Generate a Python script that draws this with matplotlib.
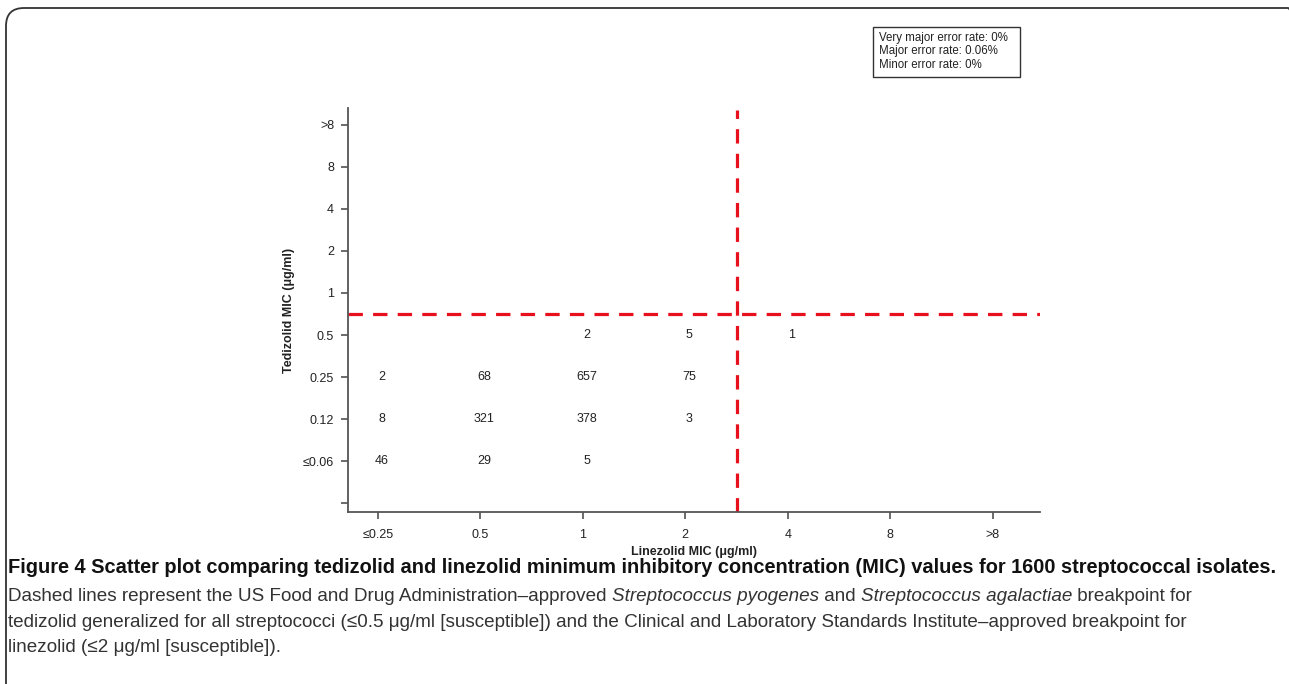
import matplotlib
matplotlib.use("Agg")
import matplotlib.pyplot as plt
from matplotlib.patches import FancyBboxPatch, Rectangle
from matplotlib.transforms import IdentityTransform

# MIC bins on each axis
linezolid_bins = ['≤0.25', '0.5', '1', '2', '4', '8', '>8']
tedizolid_bins = ['', '≤0.06', '0.12', '0.25', '0.5', '1', '2', '4', '8', '>8']

# isolate counts per (linezolid, tedizolid) cell
cell_lzd = ['≤0.25', '0.5', '1',
            '≤0.25', '0.5', '1', '2',
            '≤0.25', '0.5', '1', '2',
            '1', '2', '4']
cell_tzd = ['≤0.06', '≤0.06', '≤0.06',
            '0.12', '0.12', '0.12', '0.12',
            '0.25', '0.25', '0.25', '0.25',
            '0.5', '0.5', '0.5']
cell_n = [46, 29, 5,
          8, 321, 378, 3,
          2, 68, 657, 75,
          2, 5, 1]

# breakpoints sit halfway between bins
lzd_breakpoint = 3.5   # between 2 and 4
tzd_breakpoint = 4.5   # between 0.5 and 1

error_rates = ['Very major error rate: 0%',
               'Major error rate: 0.06%',
               'Minor error rate: 0%']

W, H = 1289, 684
fig = plt.figure(figsize=(W / 100, H / 100), dpi=100)
ax = fig.add_axes([348 / W, 1 - 512 / H, (1040 - 348) / W, (512 - 108) / H])

axfont = ['Liberation Sans', 'DejaVu Sans']
capfont = ['Liberation Sans', 'DejaVu Sans']

for lz, tz, n in zip(cell_lzd, cell_tzd, cell_n):
    ax.text(linezolid_bins.index(lz) + 0.04, tedizolid_bins.index(tz), str(n),
            ha='center', va='center', fontsize=9, color='#222222', family=axfont)

red = '#e8101c'
ax.axvline(lzd_breakpoint, ymin=0, ymax=0.995, color=red, lw=2.3,
           dashes=(4.5, 3.2))
ax.axhline(tzd_breakpoint, color=red, lw=2.3, dashes=(4.5, 3.2))

ax.set_xlim(-0.29, 6.46)
ax.set_ylim(-0.21, 9.4)
ax.set_xticks(range(len(linezolid_bins)))
ax.set_xticklabels(linezolid_bins)
ax.set_yticks(range(len(tedizolid_bins)))
ax.set_yticklabels(tedizolid_bins)
for lab in ax.get_xticklabels() + ax.get_yticklabels():
    lab.set_family(axfont)
ax.tick_params(direction='out', length=5, width=1.1, colors='#444444',
               labelcolor='#222222', labelsize=9, pad=5)
ax.tick_params(axis='x', pad=7)

for s in ['top', 'right']:
    ax.spines[s].set_visible(False)
for s in ['left', 'bottom']:
    ax.spines[s].set_color('#555555')
    ax.spines[s].set_linewidth(1.3)

ax.set_xlabel('Linezolid MIC (μg/ml)', fontsize=9, fontweight='bold',
              family=axfont, color='#222222', labelpad=4)
ax.set_ylabel('Tedizolid MIC (μg/ml)', fontsize=9, fontweight='bold',
              family=axfont, color='#222222', labelpad=6)

# error-rate box
fig.patches.append(Rectangle((873 / W, 1 - 77 / H), (1020 - 873) / W, 50 / H,
                             transform=fig.transFigure, fill=False,
                             ec='#333333', lw=1.0))
for i, line in enumerate(error_rates):
    fig.text(879 / W, 1 - (38 + 13.3 * i) / H, line, fontsize=8.3,
             family=axfont, color='#222222', va='center', ha='left')

# outer rounded frame
frame = FancyBboxPatch((6, -40), 1300, H - 8 + 40,
                       boxstyle='round,pad=0,rounding_size=18',
                       transform=IdentityTransform(), fill=False,
                       ec='#333333', lw=1.3)
fig.patches.append(frame)

# caption
fig.canvas.draw()
renderer = fig.canvas.get_renderer()


def run_line(parts, x0, y0, size, weight='normal'):
    x = x0
    for txt, style in parts:
        t = fig.text(x / W, 1 - y0 / H, txt, fontsize=size, family=capfont,
                     style=style, weight=weight,
                     color='#333333' if weight == 'normal' else '#111111',
                     va='baseline', ha='left')
        bb = t.get_window_extent(renderer)
        x += bb.width


run_line([('Figure 4 Scatter plot comparing tedizolid and linezolid minimum inhibitory '
           'concentration (MIC) values for 1600 streptococcal isolates.', 'normal')],
         8, 573, 14.4, weight='bold')
run_line([('Dashed lines represent the US Food and Drug Administration–approved ', 'normal'),
          ('Streptococcus pyogenes', 'italic'),
          (' and ', 'normal'),
          ('Streptococcus agalactiae', 'italic'),
          (' breakpoint for', 'normal')], 8, 601, 13.6)
run_line([('tedizolid generalized for all streptococci (≤0.5 μg/ml [susceptible]) and the '
           'Clinical and Laboratory Standards Institute–approved breakpoint for', 'normal')],
         8, 627, 13.6)
run_line([('linezolid (≤2 μg/ml [susceptible]).', 'normal')], 8, 652, 13.6)

fig.savefig('out.png', dpi=100)
